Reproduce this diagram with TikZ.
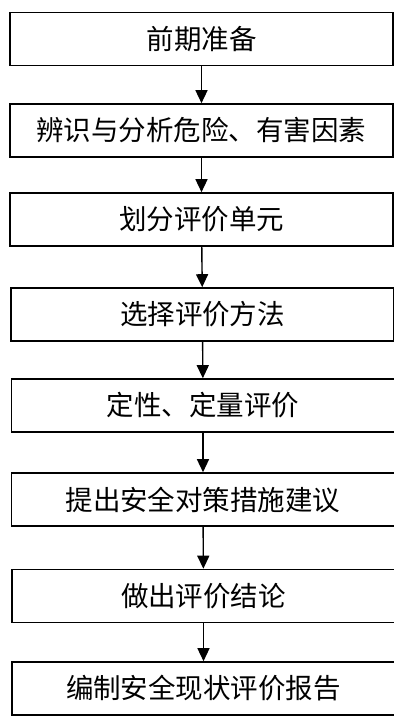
\documentclass[tikz,border=0pt]{standalone}
\usepackage{fontspec}
\newfontfamily\cjk{Noto Sans CJK SC}
\usetikzlibrary{arrows.meta}

\begin{document}
\begin{tikzpicture}
  [x=1pt, y=-1pt,
   stage/.style={draw, line width=1.6pt, minimum width=383pt, minimum height=53pt,
     inner sep=0pt, font=\cjk\fontsize{27.5}{27.5}\selectfont},
   flow/.style={line width=1.4pt, -{Triangle[length=13pt, width=12pt]}}]
  \clip (0, 0) rectangle (394, 716);
  \fill[white] (0, 0) rectangle (394, 716);
  \node[stage] (s1) at (201.5, 39) {前期准备};
  \node[stage] (s2) at (201.5, 130.5) {辨识与分析危险、有害因素};
  \node[stage] (s3) at (201.5, 219.5) {划分评价单元};
  \node[stage] (s4) at (202.5, 314.5) {选择评价方法};
  \node[stage] (s5) at (203, 405.5) {定性、定量评价};
  \node[stage] (s6) at (203, 499.5) {提出安全对策措施建议};
  \node[stage] (s7) at (203.5, 596) {做出评价结论};
  \node[stage] (s8) at (203.5, 688.5) {编制安全现状评价报告};

  \foreach \from/\to in {s1/s2,s2/s3,s3/s4,s4/s5,s5/s6,s6/s7,s7/s8}
  \draw[flow] (\from) -- (\to);

\end{tikzpicture}
\end{document}
